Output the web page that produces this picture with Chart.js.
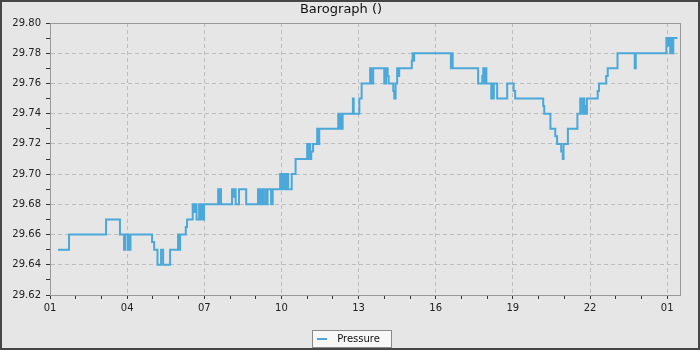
<!DOCTYPE html>
<html>
<head>
<meta charset="utf-8">
<title>Barograph</title>
<script src="https://cdn.jsdelivr.net/npm/chart.js@4/dist/chart.umd.min.js"></script>
<style>
  body { margin: 0; background: #e6e6e6; }
  #frame { width: 700px; height: 350px; box-sizing: border-box; border: 2px solid #464646; background: #e6e6e6; }
  canvas { display: block; }
</style>
</head>
<body>
<div id="frame"><canvas id="baroChart" width="696" height="346"></canvas></div>
<script>
// tick labels, one every 3 days (day offset from the 1st)
const dayLabels = ['01', '04', '07', '10', '13', '16', '19', '22', '01'];

// time of each reading in days since the 1st, and pressure in inHg
const times = [
  0.31, 0.74, 2.18, 2.72, 2.88, 2.92, 3.02, 3.05, 3.09, 3.13,
  3.97, 4.05, 4.18, 4.32, 4.40, 4.67, 4.98, 5.02, 5.06, 5.28,
  5.33, 5.55, 5.60, 5.66, 5.70, 5.80, 5.84, 5.88, 5.93, 5.99,
  6.54, 6.58, 6.61, 6.65, 7.08, 7.14, 7.18, 7.22, 7.35, 7.63,
  8.09, 8.13, 8.17, 8.21, 8.25, 8.29, 8.37, 8.40, 8.46, 8.60,
  8.66, 8.95, 8.99, 9.03, 9.07, 9.10, 9.16, 9.20, 9.26, 9.40,
  9.55, 10.00, 10.04, 10.08, 10.12, 10.16, 10.23, 10.39, 10.43, 10.47,
  11.21, 11.24, 11.28, 11.32, 11.38, 11.78, 11.81, 12.03, 12.12, 12.45,
  12.49, 12.57, 13.00, 13.07, 13.13, 13.17, 13.35, 13.39, 13.44, 13.50,
  13.54, 13.58, 14.07, 14.10, 14.13, 14.16, 15.59, 15.62, 15.66, 16.65,
  16.81, 16.85, 16.89, 16.93, 16.97, 17.16, 17.20, 17.23, 17.26, 17.39,
  17.78, 18.03, 18.09, 19.18, 19.22, 19.46, 19.65, 19.72, 19.88, 19.94,
  19.97, 20.14, 20.51, 20.62, 20.70, 20.74, 20.78, 20.80, 20.86, 20.88,
  21.30, 21.35, 21.63, 21.69, 22.07, 22.74, 22.78, 23.97, 24.03, 24.07,
  24.12, 24.15, 24.19, 24.24, 24.40
];
const pressure = [
  29.65, 29.66, 29.67, 29.66, 29.65, 29.66, 29.65, 29.66, 29.65, 29.66,
  29.655, 29.65, 29.64, 29.65, 29.64, 29.65, 29.66, 29.65, 29.66, 29.665,
  29.67, 29.68, 29.675, 29.68, 29.67, 29.68, 29.67, 29.68, 29.67, 29.68,
  29.69, 29.68, 29.69, 29.68, 29.69, 29.685, 29.69, 29.68, 29.69, 29.68,
  29.69, 29.68, 29.69, 29.68, 29.69, 29.68, 29.69, 29.68, 29.69, 29.68,
  29.69, 29.70, 29.69, 29.70, 29.69, 29.70, 29.69, 29.70, 29.69, 29.70,
  29.71, 29.72, 29.71, 29.72, 29.71, 29.715, 29.72, 29.73, 29.72, 29.73,
  29.74, 29.73, 29.74, 29.73, 29.74, 29.75, 29.74, 29.75, 29.76, 29.77,
  29.76, 29.77, 29.76, 29.77, 29.765, 29.76, 29.755, 29.75, 29.76, 29.77,
  29.765, 29.77, 29.775, 29.78, 29.775, 29.78, 29.77, 29.78, 29.77, 29.76,
  29.765, 29.77, 29.76, 29.77, 29.76, 29.75, 29.76, 29.75, 29.76, 29.75,
  29.76, 29.755, 29.75, 29.745, 29.74, 29.73, 29.725, 29.72, 29.715, 29.71,
  29.72, 29.73, 29.74, 29.75, 29.74, 29.75, 29.74, 29.745, 29.74, 29.75,
  29.755, 29.76, 29.765, 29.77, 29.78, 29.77, 29.78, 29.79, 29.785, 29.79,
  29.78, 29.79, 29.78, 29.79, 29.79
];

const lineColor = '#4ba8d9';
const gridColor = '#bdbdbd';
const legendBoxWidth = 30;

Chart.defaults.font.family = "'DejaVu Sans', sans-serif";
Chart.defaults.color = '#222';

// plot frame and boxed legend, like the original barograph page
const frameAndLegend = {
  id: 'frameAndLegend',
  beforeDraw(chart) {
    const ctx = chart.ctx;
    const hb = chart.legend.legendHitBoxes[0];
    if (!hb) return;
    // where chart.js starts the label text
    const textX = hb.left + legendBoxWidth + 5;
    ctx.save();
    const x = Math.round(textX - 25) + 0.5;
    const y = Math.round(hb.top - 4) + 0.5;
    ctx.fillStyle = '#f7f7f7';
    ctx.strokeStyle = '#8a8a8a';
    ctx.lineWidth = 1;
    ctx.fillRect(x, y, 79, 17);
    ctx.strokeRect(x, y, 79, 17);
    ctx.strokeStyle = lineColor;
    ctx.lineWidth = 2;
    ctx.beginPath();
    ctx.moveTo(Math.round(textX - 20), Math.round(hb.top + 5));
    ctx.lineTo(Math.round(textX - 10), Math.round(hb.top + 5));
    ctx.stroke();
    ctx.restore();
  },
  beforeDatasetsDraw(chart) {
    const { ctx, chartArea: a } = chart;
    ctx.save();
    ctx.strokeStyle = '#999';
    ctx.lineWidth = 1;
    ctx.strokeRect(Math.round(a.left) + 0.5, Math.round(a.top) + 0.5,
      Math.round(a.right - a.left), Math.round(a.bottom - a.top));
    ctx.restore();
  }
};

const isMajorDay = v => Math.round(v) % 3 === 0;
const isMajorP = v => Math.round(v * 100) % 2 === 0;

new Chart(document.getElementById('baroChart'), {
  type: 'line',
  data: {
    datasets: [{
      label: 'Pressure',
      data: times.map((t, i) => ({ x: t, y: pressure[i] })),
      borderColor: lineColor,
      backgroundColor: lineColor,
      borderWidth: 2,
      pointRadius: 0,
      stepped: 'before',
      fill: false
    }]
  },
  plugins: [frameAndLegend],
  options: {
    responsive: false,
    animation: false,
    layout: { padding: { top: 0, right: 18, bottom: 4, left: 0 } },
    plugins: {
      title: {
        display: true,
        text: 'Barograph ()',
        color: '#111',
        font: { size: 13, weight: 'normal' },
        padding: { top: 0, bottom: 5.4 }
      },
      legend: {
        position: 'bottom',
        maxHeight: 14,
        labels: {
          font: { size: 10 },
          color: '#111',
          boxWidth: legendBoxWidth,
          boxHeight: 2,
          padding: 4,
          generateLabels: chart => Chart.defaults.plugins.legend.labels.generateLabels(chart)
            .map(l => ({ ...l, fillStyle: 'rgba(0,0,0,0)', lineWidth: 0 }))
        }
      },
      tooltip: { enabled: false }
    },
    scales: {
      x: {
        type: 'linear',
        min: 0,
        max: 24.5,
        afterFit: s => { s.height = 35; },
        border: { color: '#999', dash: [4, 3] },
        grid: {
          color: c => (c.tick && isMajorDay(c.tick.value)) ? gridColor : 'rgba(0,0,0,0)',
          tickColor: '#333',
          tickLength: 4,
          tickBorderDash: []
        },
        ticks: {
          stepSize: 1,
          includeBounds: false,
          autoSkip: false,
          maxRotation: 0,
          padding: 3,
          font: { size: 10 },
          callback: v => isMajorDay(v) ? dayLabels[Math.round(v) / 3] : ''
        }
      },
      y: {
        min: 29.62,
        max: 29.80,
        afterFit: s => { s.width = 48; },
        border: { color: '#999', dash: [4, 3] },
        grid: {
          color: c => (c.tick && isMajorP(c.tick.value)) ? gridColor : 'rgba(0,0,0,0)',
          tickColor: '#333',
          tickLength: 4,
          tickBorderDash: []
        },
        ticks: {
          stepSize: 0.01,
          autoSkip: false,
          padding: 5,
          font: { size: 10 },
          callback: v => isMajorP(v) ? v.toFixed(2) : ''
        }
      }
    }
  }
});
</script>
</body>
</html>
